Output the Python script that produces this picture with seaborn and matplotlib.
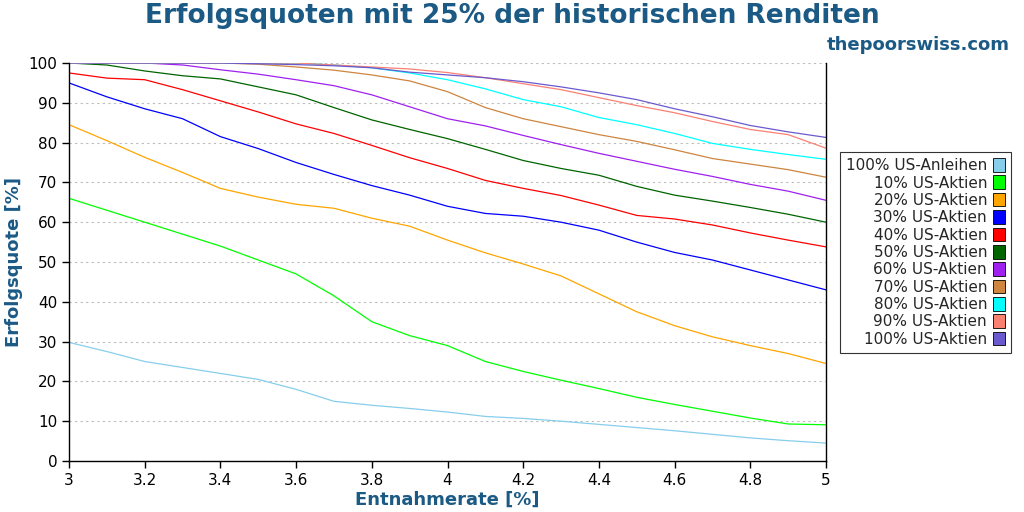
import seaborn as sns
import matplotlib.pyplot as plt
import matplotlib.patches as mpatches
import pandas as pd

rates = [3.0, 3.1, 3.2, 3.3, 3.4, 3.5, 3.6, 3.7, 3.8, 3.9, 4.0,
         4.1, 4.2, 4.3, 4.4, 4.5, 4.6, 4.7, 4.8, 4.9, 5.0]

bonds100 = [29.8, 27.5, 25, 23.5, 22, 20.5, 18, 15, 14, 13.2, 12.3, 11.2, 10.7, 10, 9.2, 8.4, 7.6, 6.7, 5.8, 5.1, 4.5]
stocks10 = [66, 63, 60, 57, 54, 50.5, 47, 41.5, 35, 31.5, 29, 25, 22.5, 20.3, 18.2, 16, 14.2, 12.5, 10.8, 9.3, 9.1]
stocks20 = [84.5, 80.5, 76.3, 72.5, 68.5, 66.3, 64.5, 63.5, 61, 59, 55.5, 52.3, 49.5, 46.5, 42, 37.5, 34, 31.2, 29, 27, 24.5]
stocks30 = [95, 91.5, 88.5, 86, 81.5, 78.5, 75, 72, 69.2, 66.8, 64, 62.2, 61.5, 60, 58, 55, 52.4, 50.5, 48, 45.5, 43]
stocks40 = [97.5, 96.2, 95.8, 93.3, 90.5, 87.7, 84.7, 82.3, 79.3, 76.2, 73.5, 70.5, 68.5, 66.7, 64.3, 61.7, 60.8, 59.3, 57.3, 55.5, 53.8]
stocks50 = [100, 99.5, 98, 96.8, 96, 94, 92, 88.8, 85.7, 83.3, 81, 78.3, 75.5, 73.5, 71.8, 69, 66.8, 65.3, 63.7, 62, 60]
stocks60 = [100, 100, 100, 99.5, 98.3, 97.2, 95.8, 94.3, 92, 89, 86, 84.2, 81.8, 79.5, 77.3, 75.3, 73.3, 71.5, 69.5, 67.8, 65.5]
stocks70 = [100, 100, 100, 100, 100, 99.7, 99, 98.2, 97, 95.5, 92.8, 88.8, 86, 84, 82, 80.3, 78.2, 76, 74.6, 73.2, 71.3]
stocks80 = [100, 100, 100, 100, 100, 100, 100, 99.5, 98.8, 97.5, 95.8, 93.5, 90.8, 89, 86.3, 84.5, 82.3, 79.8, 78.3, 77, 75.8]
stocks90 = [100, 100, 100, 100, 100, 100, 100, 99.5, 99, 98.5, 97.6, 96.3, 94.8, 93.3, 91.3, 89.3, 87.5, 85.3, 83.3, 82, 78.6]
stocks100 = [100, 100, 100, 100, 100, 99.8, 99.6, 99.3, 98.8, 97.7, 97, 96.3, 95.3, 94, 92.5, 90.8, 88.5, 86.5, 84.3, 82.7, 81.3]

labels = ['100% US-Anleihen', '10% US-Aktien', '20% US-Aktien', '30% US-Aktien', '40% US-Aktien',
          '50% US-Aktien', '60% US-Aktien', '70% US-Aktien', '80% US-Aktien', '90% US-Aktien', '100% US-Aktien']
series = [bonds100, stocks10, stocks20, stocks30, stocks40, stocks50,
          stocks60, stocks70, stocks80, stocks90, stocks100]
colors = ['skyblue', 'lime', 'orange', 'blue', 'red', 'darkgreen',
          '#a020f0', 'peru', 'cyan', 'salmon', 'slateblue']

df = pd.DataFrame({lab: s for lab, s in zip(labels, series)}, index=rates)
long = df.reset_index().melt(id_vars='index', var_name='portfolio', value_name='quote')

sns.set_style('white')
fig = plt.figure(figsize=(10.24, 5.12), dpi=100)
ax = fig.add_axes([69 / 1024, 51 / 512, 757 / 1024, 398 / 512])

sns.lineplot(data=long, x='index', y='quote', hue='portfolio', palette=colors,
             hue_order=labels, linewidth=0.9, legend=False, ax=ax)

ax.set_xlim(3, 5)
ax.set_ylim(0, 100)
ax.set_xticks([3, 3.2, 3.4, 3.6, 3.8, 4, 4.2, 4.4, 4.6, 4.8, 5])
ax.set_xticklabels(['3', '3.2', '3.4', '3.6', '3.8', '4', '4.2', '4.4', '4.6', '4.8', '5'])
ax.set_yticks(range(0, 101, 10))
ax.tick_params(direction='out', length=5, width=1, labelsize=11, colors='black',
               left=True, bottom=True)
ax.yaxis.grid(True, linestyle=(0, (2, 3)), color='#bbbbbb', linewidth=0.8)
ax.spines['top'].set_visible(False)
for s in ['left', 'bottom', 'right']:
    ax.spines[s].set_color('black')
    ax.spines[s].set_linewidth(1)

navy = '#1b5a85'
ax.set_xlabel('Entnahmerate [%]', fontsize=13, fontweight='bold', color=navy, labelpad=2)
ax.set_ylabel('Erfolgsquote [%]', fontsize=13, fontweight='bold', color=navy, labelpad=4)
fig.text(0.5, 0.968, 'Erfolgsquoten mit 25% der historischen Renditen', ha='center', va='center',
         fontsize=19, fontweight='bold', color=navy)
fig.text(0.986, 0.912, 'thepoorswiss.com', ha='right', va='center',
         fontsize=13, fontweight='bold', color=navy)

handles = [mpatches.Patch(facecolor=c, edgecolor='black', linewidth=0.6, label=l)
           for c, l in zip(colors, labels)]
leg = fig.legend(handles=handles, loc='center left', bbox_to_anchor=(832 / 1024, 0.507),
                 markerfirst=False, fontsize=11, frameon=True, fancybox=False,
                 handlelength=0.8, handleheight=1.0, handletextpad=0.4,
                 labelspacing=0.15, borderpad=0.4, alignment='right')
leg.get_frame().set_edgecolor('black')
leg.get_frame().set_linewidth(0.8)
for t in leg.get_texts():
    t.set_ha('right')

fig.savefig('out.png', dpi=100)
